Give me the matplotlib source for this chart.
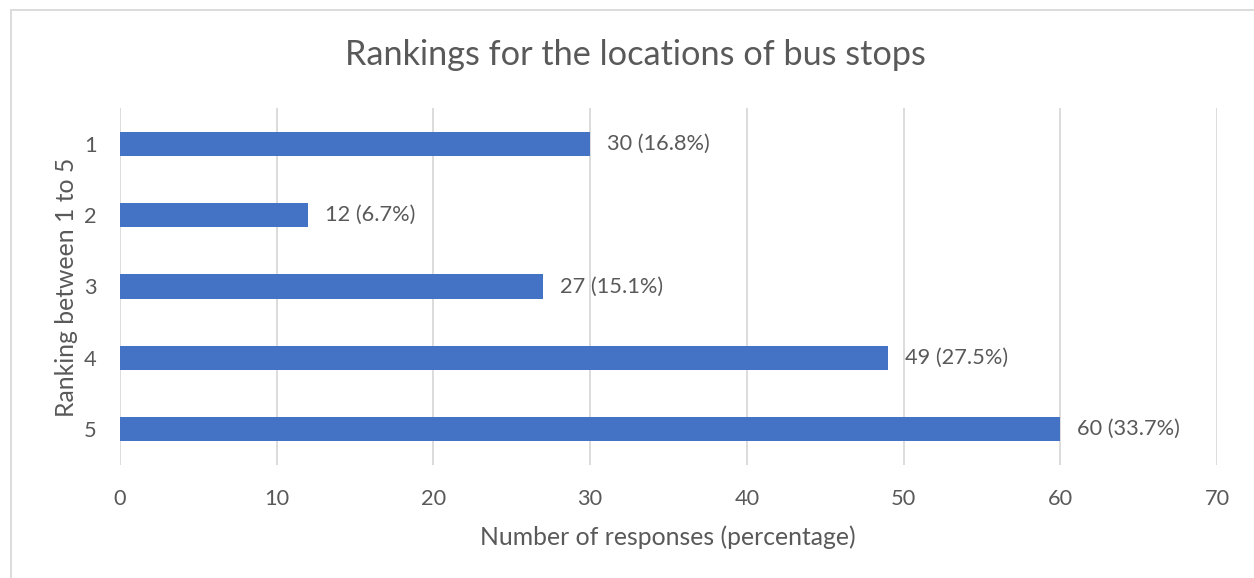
import matplotlib
matplotlib.use("Agg")
import matplotlib.pyplot as plt
from matplotlib.patches import Rectangle

rankings = ["1", "2", "3", "4", "5"]
responses = [30, 12, 27, 49, 60]
percentages = [16.8, 6.7, 15.1, 27.5, 33.7]
x_ticks = [0, 10, 20, 30, 40, 50, 60, 70]

title = "Rankings for the locations of bus stops"
xlabel = "Number of responses (percentage)"
ylabel = "Ranking between 1 to 5"

plt.rcParams['font.family'] = ['Lato', 'DejaVu Sans']
text_color = "#595959"
bar_color = "#4472C4"
grid_color = "#D9D9D9"

W, H = 1254, 578
fig = plt.figure(figsize=(W / 100, H / 100), dpi=100)
ax = fig.add_axes([120 / W, 1 - 465 / H, (1217 - 120) / W, (465 - 108) / H])

ypos = list(range(1, len(rankings) + 1))
ax.barh(ypos, responses, height=0.34, color=bar_color, zorder=3)
ax.set_ylim(len(rankings) + 0.5, 0.5)
ax.set_xlim(x_ticks[0], x_ticks[-1])
ax.set_yticks(ypos)
ax.set_yticklabels(rankings)
ax.set_xticks(x_ticks)
ax.set_xticklabels([str(t) for t in x_ticks])

for y, v, p in zip(ypos, responses, percentages):
    ax.annotate(f"{v} ({p}%)", xy=(v, y), xytext=(12, 0), textcoords="offset points",
                ha="left", va="center", fontsize=15.7, color=text_color)

ax.grid(axis="x", color=grid_color, linewidth=1.3, zorder=0)
ax.grid(axis="y", visible=False)
for s in ax.spines.values():
    s.set_visible(False)
ax.tick_params(axis="both", length=0, labelsize=15.7, labelcolor=text_color)
ax.tick_params(axis="x", pad=17)
ax.tick_params(axis="y", pad=17)

fig.text(635 / W, 1 - 55 / H, title, ha="center", va="center", fontsize=24.7,
         color=text_color)
fig.text(668 / W, 1 - 537 / H, xlabel, ha="center", va="center", fontsize=17.8, color=text_color)
fig.text(66 / W, 1 - 287 / H, ylabel, ha="center", va="center", rotation=90,
         fontsize=17.8, color=text_color)

fig.patches.append(Rectangle((11 / W, -0.1), 1.2, 1 - 10 / H + 0.1, transform=fig.transFigure,
                             fill=False, edgecolor="#D9D9D9", linewidth=1.3))

fig.savefig("out.png", dpi=100, facecolor="white")
